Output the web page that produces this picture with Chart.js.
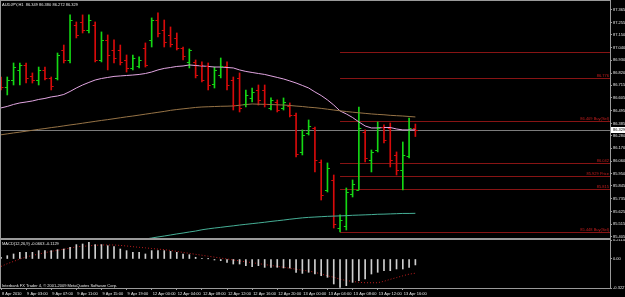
<!DOCTYPE html>
<html>
<head>
<meta charset="utf-8">
<script src="https://cdn.jsdelivr.net/npm/chart.js@4.4.1/dist/chart.umd.min.js"></script>
<style>
html, body { margin: 0; padding: 0; background: #000; }
#wrap { position: relative; width: 625px; height: 297px; background: #000; overflow: hidden; }
canvas { position: absolute; left: 0; }
#main { top: 0; }
#macd { top: 239px; }
</style>
</head>
<body>
<div id="wrap">
  <canvas id="main" width="625" height="239"></canvas>
  <canvas id="macd" width="625" height="58"></canvas>
</div>
<script>
var symbol = 'AUDJPY,H1';

// hourly bars, 8 Apr 2010 -> 13 Apr 2010
var opens = [86.778,86.700,86.760,86.847,86.890,86.795,86.760,86.847,86.778,86.778,
  87.019,86.933,87.235,87.261,87.192,87.235,86.933,87.106,87.019,87.019,
  86.933,86.864,86.881,87.037,87.106,87.278,87.192,87.149,87.123,87.037,
  86.916,86.916,86.890,86.881,86.726,86.803,86.881,86.760,86.778,86.553,
  86.605,86.674,86.674,86.519,86.570,86.519,86.536,86.458,86.139,86.303,
  86.346,86.052,85.811,85.897,85.482,85.500,85.776,85.811,86.311,86.070,
  86.156,86.354,86.346,86.113,85.983,86.104,86.349];
var highs = [86.786,86.786,86.907,86.907,86.907,86.821,86.872,86.872,86.786,86.993,
  87.062,87.322,87.261,87.322,87.322,87.261,87.175,87.149,87.106,87.062,
  86.976,86.976,86.959,87.080,87.296,87.339,87.278,87.218,87.166,87.045,
  87.028,86.933,86.916,86.907,86.872,86.950,86.916,86.786,86.821,86.674,
  86.691,86.717,86.717,86.605,86.588,86.605,86.562,86.475,86.329,86.415,
  86.354,86.070,86.044,85.940,85.595,85.828,85.897,86.527,86.329,86.156,
  86.398,86.372,86.389,86.139,86.225,86.432,86.380];
var lows = [86.674,86.631,86.717,86.717,86.734,86.734,86.717,86.760,86.674,86.760,
  86.907,86.907,87.123,87.166,87.166,86.916,86.916,86.847,86.907,86.890,
  86.829,86.847,86.864,86.872,87.045,87.132,87.045,87.045,87.019,86.933,
  86.864,86.778,86.743,86.674,86.691,86.778,86.674,86.501,86.484,86.527,
  86.570,86.544,86.527,86.501,86.484,86.501,86.441,86.096,86.113,86.285,
  85.966,85.724,85.793,85.482,85.448,85.465,85.750,85.811,86.052,85.966,
  86.139,86.216,86.009,85.940,85.811,86.087,86.272];
var closes = [86.700,86.760,86.872,86.890,86.778,86.760,86.847,86.778,86.708,86.976,
  86.933,87.278,87.149,87.192,87.278,86.933,87.106,86.976,86.950,86.916,
  86.864,86.950,86.933,86.890,87.278,87.166,87.088,87.071,87.037,86.967,
  87.019,86.803,86.760,86.717,86.847,86.881,86.717,86.544,86.519,86.631,
  86.657,86.588,86.553,86.588,86.501,86.570,86.458,86.121,86.285,86.363,
  86.070,85.767,86.001,85.517,85.552,85.793,85.862,86.346,86.087,86.139,
  86.346,86.242,86.070,85.983,86.113,86.346,86.329];

// moving averages on the price window
var maFast = [86.519,86.532,86.549,86.562,86.570,86.579,86.592,86.601,86.614,86.622,
  86.635,86.661,86.691,86.717,86.739,86.760,86.773,86.782,86.791,86.795,
  86.799,86.803,86.808,86.816,86.829,86.847,86.860,86.868,86.877,86.881,
  86.890,86.885,86.881,86.877,86.872,86.872,86.868,86.864,86.847,86.834,
  86.825,86.816,86.808,86.795,86.782,86.769,86.752,86.734,86.713,86.691,
  86.657,86.626,86.588,86.544,86.493,86.467,86.436,86.398,86.363,86.346,
  86.346,86.350,86.350,86.337,86.329,86.329,86.329];
var maMid = [86.287,86.295,86.303,86.310,86.318,86.326,86.334,86.341,86.349,86.356,
  86.364,86.372,86.379,86.387,86.395,86.403,86.411,86.418,86.426,86.434,
  86.442,86.449,86.457,86.465,86.473,86.481,86.489,86.498,86.505,86.511,
  86.517,86.523,86.527,86.529,86.531,86.533,86.534,86.536,86.542,86.548,
  86.553,86.551,86.550,86.548,86.546,86.544,86.540,86.535,86.531,86.525,
  86.521,86.515,86.508,86.501,86.494,86.488,86.482,86.477,86.472,86.467,
  86.463,86.460,86.455,86.452,86.449,86.445,86.441];
var maSlow = [null,null,null,null,null,null,null,null,null,null,
  null,null,null,null,null,null,null,null,null,null,null,
  85.370,85.379,85.387,85.396,85.405,85.413,85.422,85.431,85.439,85.448,
  85.456,85.467,85.475,85.482,85.488,85.495,85.501,85.508,85.514,85.520,
  85.526,85.532,85.539,85.545,85.551,85.558,85.564,85.570,85.574,85.577,
  85.580,85.583,85.585,85.587,85.589,85.592,85.594,85.596,85.598,85.601,
  85.602,85.604,85.606,85.608,85.608,85.609];

// MACD(12,26,9)
var macdMain = [0.019,0.037,0.056,0.074,0.074,0.074,0.093,0.093,0.093,0.104,
  0.111,0.130,0.160,0.167,0.186,0.160,0.160,0.148,0.137,0.111,
  0.093,0.074,0.074,0.056,0.093,0.093,0.093,0.085,0.074,0.056,
  0.048,0.019,0.005,0.002,-0.011,-0.019,-0.037,-0.056,-0.056,-0.074,
  -0.085,-0.074,-0.093,-0.093,-0.093,-0.100,-0.100,-0.148,-0.160,-0.148,
  -0.167,-0.186,-0.204,-0.278,-0.315,-0.297,-0.260,-0.241,-0.223,-0.167,
  -0.148,-0.130,-0.130,-0.111,-0.111,-0.093,-0.066];
var macdSignal = [-0.083,-0.052,-0.027,-0.001,0.023,0.039,0.055,0.070,0.085,0.097,
  0.108,0.121,0.136,0.141,0.147,0.152,0.156,0.156,0.156,0.151,
  0.145,0.137,0.130,0.124,0.117,0.110,0.104,0.095,0.085,0.073,
  0.063,0.052,0.042,0.031,0.021,0.010,0.000,-0.011,-0.021,-0.031,
  -0.041,-0.051,-0.062,-0.072,-0.082,-0.092,-0.103,-0.114,-0.125,-0.134,
  -0.148,-0.167,-0.187,-0.203,-0.225,-0.240,-0.249,-0.259,-0.264,-0.264,
  -0.264,-0.248,-0.226,-0.207,-0.187,-0.169,-0.158];
var macdTitle = 'MACD(12,26,9) -0.0663 -0.1129';
var macdTicks = [0.2114, 0, -0.3227];

// time axis: one label every 4 bars
var timeLabels = ['8 Apr 2010','9 Apr 03:00','9 Apr 07:00','9 Apr 11:00','9 Apr 15:00',
  '9 Apr 19:00','12 Apr 00:00','12 Apr 04:00','12 Apr 08:00','12 Apr 12:00',
  '12 Apr 16:00','12 Apr 20:00','13 Apr 00:00','13 Apr 04:00','13 Apr 08:00',
  '13 Apr 12:00','13 Apr 16:00'];
var priceTicks = [87.365,87.255,87.150,87.040,86.930,86.820,86.715,86.605,86.495,86.385,
  86.280,86.170,86.060,85.950,85.845,85.735,85.625,85.515,85.405];

// fibo levels drawn from bar 54
var fibLevels = [87.003,86.776,86.409,86.042,85.929,85.815,85.448];
var fibNames = [null,'','Buy(Sel)','','Price','','Buy(Sel)'];
var fibStart = 54;
var copyright = 'Interbank FX Trader 4, \u00a9 2001-2009 MetaQuotes Software Corp.';

var slots = 98;
var idx = [];
for (var i = 0; i < slots; i++) idx.push(i);

var upCol = 'rgb(20,215,20)';
var dnCol = 'rgb(215,10,10)';
var frameCol = '#9a9a9a';
var txtCol = '#e6e6e6';
var tiny = { size: 4, family: 'Liberation Sans' };
var tinyCss = '4px "Liberation Sans"';
var barCols = opens.map(function(o, i) { return closes[i] >= o ? upCol : dnCol; });
var bid = closes[closes.length - 1];

var mainDeco = {
  id: 'mainDeco',
  beforeDatasetsDraw: function(chart) {
    var a = chart.chartArea, x = chart.scales.x, y = chart.scales.y, ctx = chart.ctx;
    ctx.save();
    ctx.lineWidth = 1;
    ctx.strokeStyle = 'rgb(135,20,20)';
    var x0 = x.getPixelForValue(fibStart);
    fibLevels.forEach(function(v) {
      var py = Math.round(y.getPixelForValue(v)) + 0.5;
      ctx.beginPath(); ctx.moveTo(x0, py); ctx.lineTo(a.right, py); ctx.stroke();
    });
    var by = Math.round(y.getPixelForValue(bid)) + 0.5;
    ctx.strokeStyle = '#7c7c7c';
    ctx.beginPath(); ctx.moveTo(a.left, by); ctx.lineTo(a.right, by); ctx.stroke();
    ctx.restore();
  },
  afterDatasetsDraw: function(chart) {
    var a = chart.chartArea, x = chart.scales.x, y = chart.scales.y, ctx = chart.ctx;
    ctx.save();
    ctx.beginPath(); ctx.rect(a.left, a.top, a.right - a.left, a.bottom - a.top); ctx.clip();
    ctx.lineWidth = 1;
    for (var i = 0; i < opens.length; i++) {
      var px = x.getPixelForValue(i);
      var yo = Math.round(y.getPixelForValue(opens[i])) + 0.5;
      var yc = Math.round(y.getPixelForValue(closes[i])) + 0.5;
      ctx.strokeStyle = barCols[i];
      ctx.beginPath();
      ctx.moveTo(px - 2.5, yo); ctx.lineTo(px, yo);
      ctx.moveTo(px, yc); ctx.lineTo(px + 2.5, yc);
      ctx.stroke();
    }
    ctx.restore();
  },
  afterDraw: function(chart) {
    var a = chart.chartArea, y = chart.scales.y, ctx = chart.ctx;
    ctx.save();
    ctx.font = tinyCss;
    ctx.textBaseline = 'middle';
    ctx.fillStyle = txtCol;
    var last = opens.length - 1;
    ctx.fillText(symbol + '  ' + [opens[last], highs[last], lows[last], closes[last]].map(function(v) { return v.toFixed(3); }).join(' '), 2, 5);
    ctx.fillStyle = 'rgb(200,30,30)';
    ctx.textAlign = 'right';
    ctx.textBaseline = 'bottom';
    fibLevels.forEach(function(v, k) {
      if (fibNames[k] === null) return;
      var py = Math.round(y.getPixelForValue(v));
      ctx.fillText(v.toFixed(3) + (fibNames[k] ? ' ' + fibNames[k] : ''), a.right - 1, py);
    });
    var by = Math.round(y.getPixelForValue(bid));
    ctx.fillStyle = '#fff';
    ctx.fillRect(a.right + 1, by - 3, 14, 6);
    ctx.fillStyle = '#000';
    ctx.textAlign = 'left';
    ctx.textBaseline = 'middle';
    ctx.fillText(bid.toFixed(3), a.right + 3, by);
    ctx.strokeStyle = frameCol;
    ctx.lineWidth = 1;
    ctx.strokeRect(a.left - 0.5, a.top - 0.5, a.right - a.left + 1, a.bottom - a.top + 1);
    ctx.restore();
  }
};

new Chart(document.getElementById('main'), {
  type: 'bar',
  data: {
    labels: idx,
    datasets: [
      { type: 'line', data: maSlow, borderColor: 'rgb(70,175,150)', borderWidth: 1, pointRadius: 0 },
      { type: 'line', data: maMid, borderColor: 'rgb(150,115,70)', borderWidth: 1, pointRadius: 0 },
      { type: 'line', data: maFast, borderColor: 'rgb(225,165,225)', borderWidth: 1, pointRadius: 0 },
      { type: 'bar', data: highs.map(function(h, i) { return [lows[i], h]; }),
        backgroundColor: barCols, barThickness: 1 }
    ]
  },
  options: {
    responsive: false,
    animation: false,
    events: [],
    plugins: { legend: { display: false }, tooltip: { enabled: false } },
    layout: { padding: { left: 1, top: 1, right: 0, bottom: 1 } },
    scales: {
      x: { display: false, offset: false },
      y: {
        position: 'right', min: 85.396, max: 87.442,
        afterBuildTicks: function(s) { s.ticks = priceTicks.map(function(v) { return { value: v }; }); },
        afterFit: function(s) { s.width = 15; s.paddingTop = 0; s.paddingBottom = 0; },
        ticks: { font: tiny, color: txtCol, padding: 1, callback: function(v) { return v.toFixed(3); } },
        grid: { drawOnChartArea: false, tickLength: 2, color: frameCol },
        border: { color: frameCol }
      }
    }
  },
  plugins: [mainDeco]
});

var macdDeco = {
  id: 'macdDeco',
  afterDraw: function(chart) {
    var a = chart.chartArea, ctx = chart.ctx;
    ctx.save();
    ctx.font = tinyCss;
    ctx.fillStyle = txtCol;
    ctx.textBaseline = 'middle';
    ctx.fillText(macdTitle, 2, a.top + 3.5);
    ctx.fillText(copyright, 2, a.bottom - 2);
    ctx.strokeStyle = frameCol;
    ctx.lineWidth = 1;
    ctx.strokeRect(a.left - 0.5, a.top - 0.5, a.right - a.left + 1, a.bottom - a.top + 1);
    ctx.restore();
  }
};

new Chart(document.getElementById('macd'), {
  type: 'bar',
  data: {
    labels: idx,
    datasets: [
      { type: 'bar', data: macdMain, backgroundColor: '#cfcfcf', barThickness: 1 },
      { type: 'line', data: macdSignal, borderColor: 'rgb(190,30,30)', borderWidth: 1,
        borderDash: [1, 2], pointRadius: 0 }
    ]
  },
  options: {
    responsive: false,
    animation: false,
    events: [],
    plugins: { legend: { display: false }, tooltip: { enabled: false } },
    layout: { padding: { left: 1, top: 1, right: 0, bottom: 0 } },
    scales: {
      x: {
        offset: false,
        afterBuildTicks: function(s) {
          s.ticks = s.ticks.filter(function(t) { return t.value % 4 === 0 && t.value / 4 < timeLabels.length; });
        },
        afterFit: function(s) { s.height = 9; s.paddingLeft = 0; s.paddingRight = 0; },
        ticks: { autoSkip: false, maxRotation: 0, align: 'start', labelOffset: 1, padding: 1,
          font: tiny, color: txtCol, callback: function(v) { return timeLabels[v / 4]; } },
        grid: { offset: false, drawOnChartArea: false, tickLength: 2, color: frameCol },
        border: { color: frameCol }
      },
      y: {
        position: 'right', min: -0.3227, max: 0.2114,
        afterBuildTicks: function(s) { s.ticks = macdTicks.map(function(v) { return { value: v }; }); },
        afterFit: function(s) { s.width = 15; s.paddingTop = 0; s.paddingBottom = 0; },
        ticks: { font: tiny, color: txtCol, padding: 1,
          callback: function(v) { return v === 0 ? '0.00' : v.toFixed(4); } },
        grid: { drawOnChartArea: false, tickLength: 2, color: frameCol },
        border: { color: frameCol }
      }
    }
  },
  plugins: [macdDeco]
});
</script>
</body>
</html>
